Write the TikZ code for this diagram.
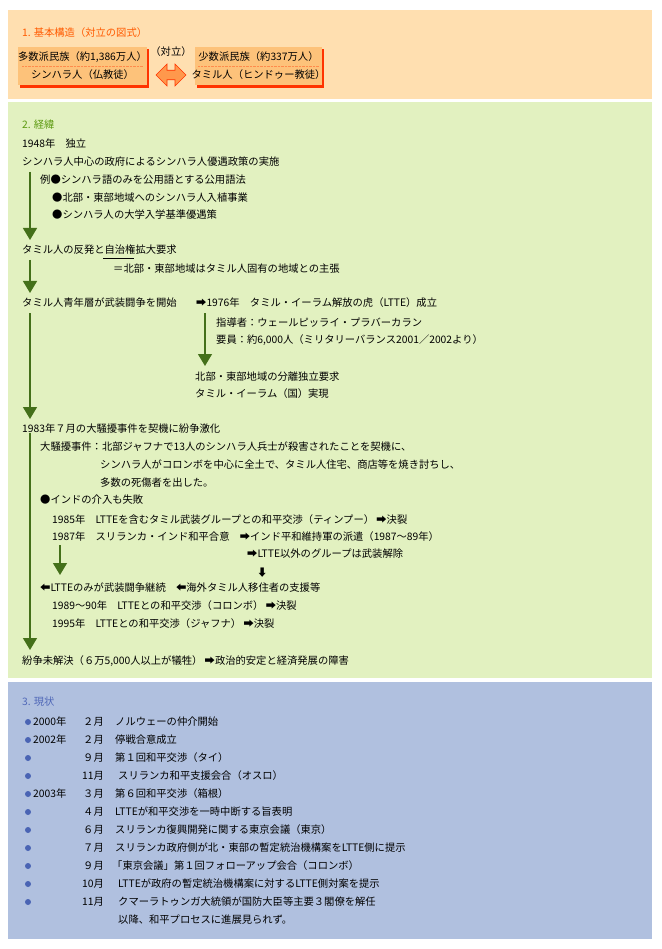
\documentclass[tikz,border=0pt]{standalone}
\usepackage{fontspec}
\setmainfont{Noto Sans CJK JP}
\usetikzlibrary{arrows.meta,shapes.arrows}
\definecolor{orbg}{HTML}{FFDFB0}
\definecolor{grbg}{HTML}{E2F1C0}
\definecolor{blbg}{HTML}{B0C0DF}
\definecolor{ortit}{HTML}{FF5A00}
\definecolor{grtit}{HTML}{5C9A10}
\definecolor{bltit}{HTML}{5068B8}
\definecolor{arrg}{HTML}{44701A}
\definecolor{boxo}{HTML}{FDC27A}
\definecolor{shad}{HTML}{FF3300}
\definecolor{dot}{HTML}{4A64B4}
\begin{document}
\begin{tikzpicture}[x=1pt,y=-1pt,
  t/.style={anchor=west,inner sep=0pt,font=\fontsize{10.3}{12}\selectfont},
  garr/.style={draw=arrg,line width=1.2pt,-{Triangle[width=14pt,length=12pt]},arrg},
  bul/.style={circle,fill=dot,inner sep=0pt,minimum size=6pt}]
\useasboundingbox (0,0) rectangle (661,949);
\fill[white] (0,0) rectangle (661,949);
\fill[orbg] (8,10) rectangle (652,99);
\fill[grbg] (8,102) rectangle (652,678);
\fill[blbg] (8,682) rectangle (652,939);
% section 1
\node[t,text=ortit] (t1) at (22,33) {1. 基本構造（対立の図式）};
\fill[shad] (20,49) rectangle (149,88);
\fill[shad] (197,49) rectangle (324,88);
\node[fill=boxo,minimum width=129pt,minimum height=38pt,inner sep=0pt] (bl) at (82.5,66.5) {};
\node[fill=boxo,minimum width=127pt,minimum height=38pt,inner sep=0pt] (br) at (258.5,66.5) {};
\draw[ortit!70,densely dotted] (22,66.5) -- (143,66.5);
\draw[ortit!70,densely dotted] (198,66.5) -- (319,66.5);
\node[t,anchor=center] (bl1) at (82.5,57) {多数派民族（約1,386万人）};
\node[t,anchor=center] (bl2) at (82.5,75) {シンハラ人（仏教徒）};
\node[t,anchor=center] (br1) at (258.5,57) {少数派民族（約337万人）};
\node[t,anchor=center] (br2) at (258.5,75) {タミル人（ヒンドゥー教徒）};
\node[t,anchor=center] (vs) at (171,52) {（対立）};
\node[double arrow,fill=orange!85!red!70,draw=shad,line width=0.6pt,minimum width=22pt,double arrow head extend=3pt,minimum height=30pt,inner sep=2pt] (da) at (171,75) {};
% section 2
\node[t,text=grtit] (t2) at (22,125) {2. 経緯};
\node[t] (a1) at (22,144) {1948年\quad 独立};
\node[t] (a2) at (22,162) {シンハラ人中心の政府によるシンハラ人優遇政策の実施};
\node[t] (a3) at (40,180) {例●シンハラ語のみを公用語とする公用語法};
\node[t] (a4) at (52,198) {●北部・東部地域へのシンハラ人入植事業};
\node[t] (a5) at (52,215) {●シンハラ人の大学入学基準優遇策};
\node[t] (b1) at (22,250) {タミル人の反発と自治権拡大要求};
\coordinate (u1) at (103,258); \coordinate (u2) at (134,258);
\draw (u1) -- (u2);
\node[t] (b2) at (113,269) {＝北部・東部地域はタミル人固有の地域との主張};
\node[t] (c1) at (22,303) {タミル人青年層が武装闘争を開始};
\node[t] (c2) at (196,303) {➡1976年\quad タミル・イーラム解放の虎（LTTE）成立};
\node[t] (c3) at (216,323) {指導者：ウェールピッライ・プラバーカラン};
\node[t] (c4) at (216,340) {要員：約6,000人（ミリタリーバランス2001／2002より）};
\node[t] (c5) at (195,377) {北部・東部地域の分離独立要求};
\node[t] (c6) at (195,394) {タミル・イーラム（国）実現};
\node[t] (d1) at (22,429) {1983年７月の大騒擾事件を契機に紛争激化};
\node[t] (d2) at (40,447) {大騒擾事件：北部ジャフナで13人のシンハラ人兵士が殺害されたことを契機に、};
\node[t] (d3) at (100,465) {シンハラ人がコロンボを中心に全土で、タミル人住宅、商店等を焼き討ちし、};
\node[t] (d4) at (100,483) {多数の死傷者を出した。};
\node[t] (d5) at (40,500) {●インドの介入も失敗};
\node[t] (d6) at (52,520) {1985年\quad LTTEを含むタミル武装グループとの和平交渉（ティンプー）\ ➡決裂};
\node[t] (d7) at (52,537) {1987年\quad スリランカ・インド和平合意\quad ➡インド平和維持軍の派遣（1987〜89年）};
\node[t] (d8) at (247,554) {➡LTTE以外のグループは武装解除};
\node[t] (d9) at (257,573) {⬇};
\node[t] (e1) at (40,588) {⬅LTTEのみが武装闘争継続\quad ⬅海外タミル人移住者の支援等};
\node[t] (e2) at (52,606) {1989〜90年\quad LTTEとの和平交渉（コロンボ）\ ➡決裂};
\node[t] (e3) at (52,624) {1995年\quad LTTEとの和平交渉（ジャフナ）\ ➡決裂};
\node[t] (f1) at (22,661) {紛争未解決（６万5,000人以上が犠牲）\ ➡政治的安定と経済発展の障害};
\coordinate (g1s) at (30,172); \coordinate (g1e) at (30,240);
\coordinate (g2s) at (30,260); \coordinate (g2e) at (30,293);
\coordinate (g3s) at (30,313); \coordinate (g3e) at (30,419);
\coordinate (g4s) at (205,313); \coordinate (g4e) at (205,366);
\coordinate (g5s) at (30,433); \coordinate (g5e) at (30,650);
\coordinate (g6s) at (60,545); \coordinate (g6e) at (60,575);
\foreach \s/\e in {g1s/g1e,g2s/g2e,g3s/g3e,g4s/g4e,g5s/g5e,g6s/g6e}
  \draw[garr] (\s) -- (\e);
% section 3
\node[t,text=bltit] (t3) at (22,702) {3. 現状};
\foreach \y/\yr in {722/2000年,740/2002年,794/2003年}
  \node[t] at (33,\y) {\yr};
\foreach \y/\m/\x/\txt in {
  722/２月/115/ノルウェーの仲介開始,
  740/２月/115/停戦合意成立,
  758/９月/115/第１回和平交渉（タイ）,
  776/11月/118/スリランカ和平支援会合（オスロ）,
  794/３月/115/第６回和平交渉（箱根）,
  812/４月/115/LTTEが和平交渉を一時中断する旨表明,
  830/６月/115/スリランカ復興開発に関する東京会議（東京）,
  848/７月/115/スリランカ政府側が北・東部の暫定統治機構案をLTTE側に提示,
  866/９月/112/「東京会議」第１回フォローアップ会合（コロンボ）,
  884/10月/118/LTTEが政府の暫定統治機構案に対するLTTE側対案を提示,
  902/11月/118/クマーラトゥンガ大統領が国防大臣等主要３閣僚を解任}{
  \node[bul] at (28,\y) {};
  \node[t,anchor=east] at (104,\y) {\m};
  \node[t] at (\x,\y) {\txt};
}
\node[t] (z1) at (118,920) {以降、和平プロセスに進展見られず。};
\end{tikzpicture}
\end{document}
